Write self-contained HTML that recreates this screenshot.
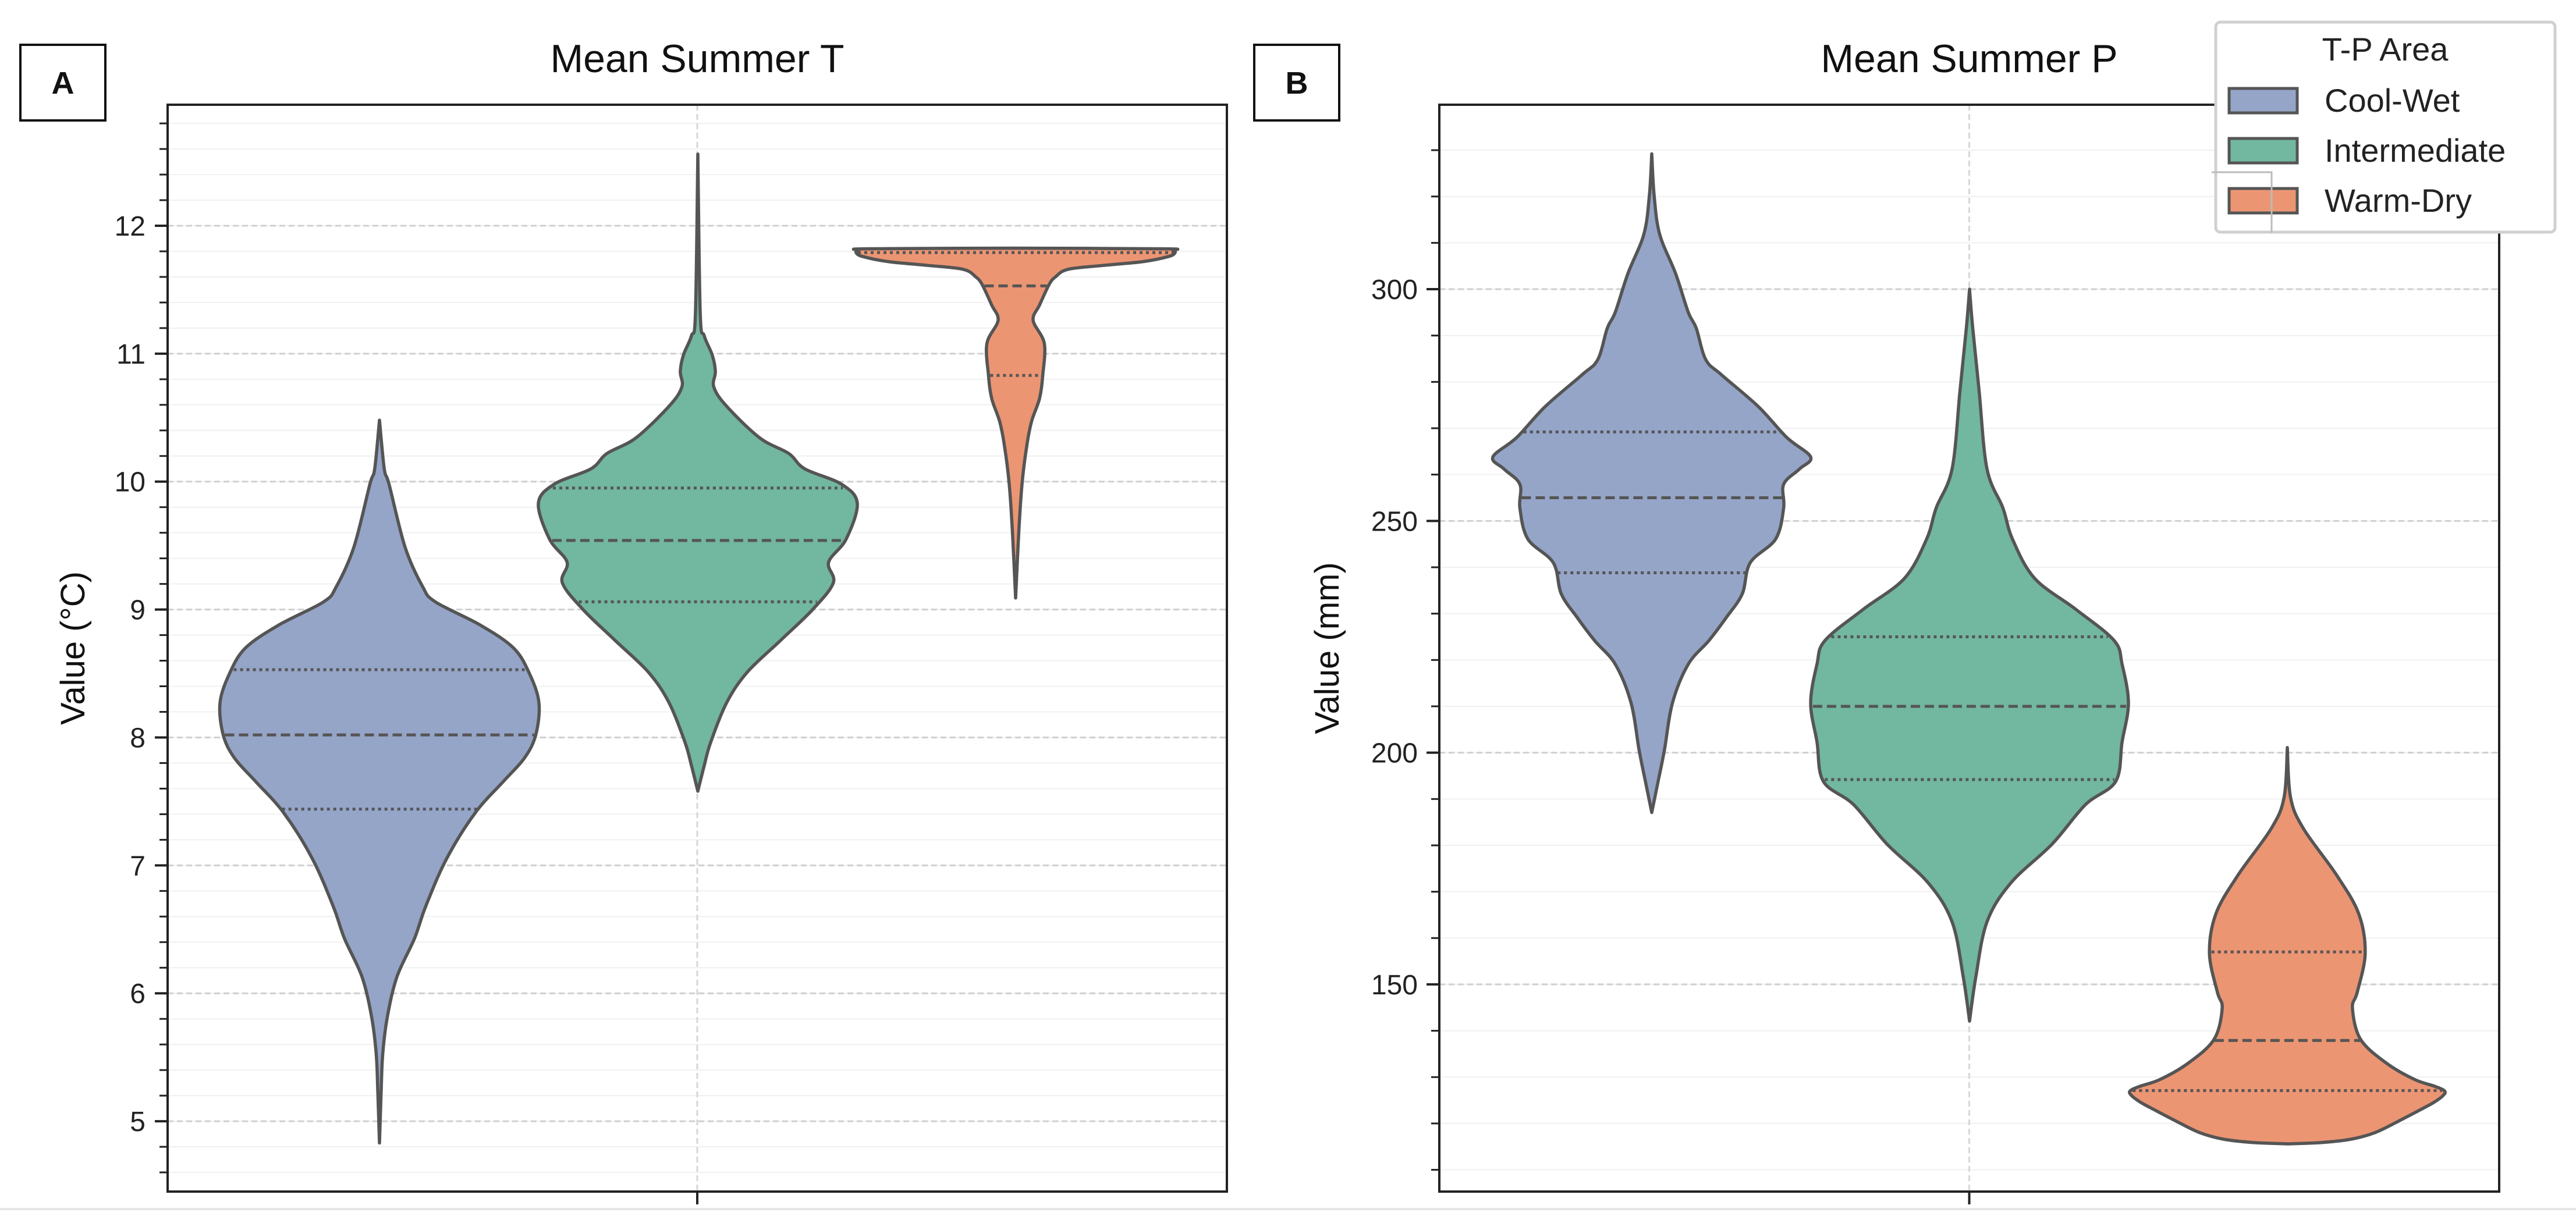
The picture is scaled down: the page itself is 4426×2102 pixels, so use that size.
<!DOCTYPE html>
<html><head><meta charset="utf-8">
<style>
html,body{margin:0;padding:0;background:#fff;}
svg{display:block;font-family:"Liberation Sans","DejaVu Sans",sans-serif;}
</style></head>
<body>
<svg id="fig" width="4426" height="2102" viewBox="0 0 4426 2102" xmlns="http://www.w3.org/2000/svg">
<rect x="0" y="0" width="4426" height="2102" fill="#fff"/>
<g id="panelA"></g>
<g id="panelB"></g>
<g id="legend">
  <rect x="3807" y="38" width="583" height="361" rx="8" fill="#fff" stroke="#d0d0d0" stroke-width="5"/>
  <text x="4098" y="104" font-size="56" text-anchor="middle" fill="#222">T-P Area</text>
  <g>
    <rect x="3830" y="152" width="117" height="42" fill="#95a5c8" stroke="#555" stroke-width="5"/>
    <text x="3994" y="192" font-size="56" fill="#222">Cool-Wet</text>
  </g>
  <g>
    <rect x="3830" y="238" width="117" height="42" fill="#72b7a0" stroke="#555" stroke-width="5"/>
    <text x="3994" y="278" font-size="56" fill="#222">Intermediate</text>
  </g>
  <g>
    <rect x="3830" y="324" width="117" height="42" fill="#ec9573" stroke="#555" stroke-width="5"/>
    <text x="3994" y="364" font-size="56" fill="#222">Warm-Dry</text>
  </g>
</g>
</svg>
<script>
// ---------- DATA ----------
const groups = ["Cool-Wet","Intermediate","Warm-Dry"];
const colors = ["#95a5c8","#72b7a0","#ec9573"];

// Panel A (Mean Summer T, °C): profile values and relative density widths
const aCoolVals = [10.48,10.1,9.98,9.49,9.18,9.06,8.88,8.7,8.5,8.27,8.02,7.84,7.66,7.41,7.05,6.68,6.43,6.13,5.82,5.52,5.21,4.83];
const aCoolDens = [0,0.03,0.06,0.16,0.27,0.35,0.63,0.84,0.94,1.0,0.98,0.91,0.78,0.6,0.42,0.29,0.22,0.11,0.05,0.02,0.01,0];
const aInterVals = [12.56,11.32,11.14,10.99,10.86,10.74,10.59,10.34,10.22,10.1,9.98,9.83,9.55,9.37,9.21,9.0,8.76,8.51,8.27,7.96,7.78,7.58];
const aInterDens = [0,0.015,0.04,0.09,0.11,0.1,0.18,0.39,0.57,0.67,0.9,1.0,0.93,0.82,0.85,0.72,0.52,0.31,0.18,0.08,0.04,0];
const aWarmVals = [11.825,11.82,11.81,11.79,11.76,11.72,11.69,11.66,11.6,11.54,11.38,11.26,11.08,10.83,10.65,10.47,10.28,9.98,9.61,9.09];
const aWarmDens = [0,0.93,0.985,1.0,0.96,0.8,0.55,0.33,0.25,0.21,0.15,0.11,0.18,0.17,0.15,0.1,0.07,0.04,0.02,0];
const aQuart = [[7.44,8.02,8.53],[9.06,9.54,9.95],[10.83,11.53,11.79]];
const aTicks = [5,6,7,8,9,10,11,12];

// Panel B (Mean Summer P, mm)
const bCoolVals = [329.2,320.2,311.8,303.4,295,291.6,284.8,281.5,274.7,268,263.8,261.2,257.9,252.8,246.1,241,234.3,229.2,224.2,219.1,210.7,200.6,193.8,187.1];
const bCoolDens = [0,0.015,0.05,0.15,0.23,0.28,0.34,0.44,0.67,0.85,1.0,0.93,0.83,0.83,0.78,0.62,0.57,0.47,0.36,0.23,0.13,0.08,0.04,0];
const bInterVals = [300,291.6,278.1,261.2,252.8,246.1,237.6,230.9,224.2,219.1,210.7,202.3,193.8,188.8,180.3,171.9,163.5,151.7,142.1];
const bInterDens = [0,0.02,0.06,0.11,0.21,0.27,0.41,0.67,0.91,0.96,1.0,0.96,0.92,0.73,0.52,0.26,0.11,0.04,0];
const bWarmVals = [201.1,190.4,183.7,173.6,165.2,156.7,148.3,144.9,138.2,133.1,129.5,128,127,126,124.5,123,120.5,118,116.6,115.9,115.6];
const bWarmDens = [0,0.02,0.1,0.31,0.45,0.49,0.44,0.41,0.46,0.62,0.8,0.93,0.99,0.98,0.92,0.84,0.7,0.55,0.4,0.22,0];
const bQuart = [[238.8,255,269.2],[194.2,210,225],[127.1,137.9,157]];
const bTicks = [150,200,250,300];

// ---------- DRAWING ----------
const NS = "http://www.w3.org/2000/svg";
function mk(parent, tag, attrs){
  const e = document.createElementNS(NS, tag);
  for (const k in attrs) e.setAttribute(k, attrs[k]);
  parent.appendChild(e); return e;
}
function interp(vals, dens, v){
  for (let i=0;i<vals.length-1;i++){
    const a=vals[i], b=vals[i+1];
    if ((v<=a && v>=b)){ const t=(a-v)/(a-b||1); return dens[i]+(dens[i+1]-dens[i])*t; }
  }
  return 0;
}
function smoothPath(pts){
  let d = "M"+pts[0][0]+","+pts[0][1];
  for (let i=0;i<pts.length-1;i++){
    const p0=pts[i-1]||pts[i], p1=pts[i], p2=pts[i+1], p3=pts[i+2]||p2;
    const c1=[p1[0]+(p2[0]-p0[0])/6, p1[1]+(p2[1]-p0[1])/6];
    const c2=[p2[0]-(p3[0]-p1[0])/6, p2[1]-(p3[1]-p1[1])/6];
    d += " C"+c1[0].toFixed(1)+","+c1[1].toFixed(1)+" "+c2[0].toFixed(1)+","+c2[1].toFixed(1)+" "+p2[0].toFixed(1)+","+p2[1].toFixed(1);
  }
  return d;
}

function drawPanel(g, cfg){
  const {left,right,top,bottom,vmin,vmax,ticks,minorStep,centers,hw,profiles,quarts,title,ylabel,tickLabelX,ylabelX,letter,letterBox,panelKey} = cfg;
  const y = v => bottom - (v - vmin)/(vmax - vmin)*(bottom-top);
  const clip = mk(g,"clipPath",{id:"clip"+panelKey});
  mk(clip,"rect",{x:left,y:top,width:right-left,height:bottom-top});
  const mg = mk(g,"g",{});
  
  
  for (let v=Math.ceil(vmin/minorStep)*minorStep; v<=vmax; v+=minorStep){
    const yy=y(v);
    mk(mg,"line",{x1:left,x2:right,y1:yy,y2:yy,stroke:"#f0f0f0","stroke-width":2});
    mk(mg,"line",{x1:left-14,x2:left,y1:yy,y2:yy,stroke:"#222","stroke-width":3});
  }
  const tg = mk(g,"g",{});
  
  
  ticks.forEach(v=>{
    const yy=y(v);
    mk(tg,"line",{x1:left,x2:right,y1:yy,y2:yy,stroke:"#cfcfcf","stroke-width":3,"stroke-dasharray":"10,6"});
    mk(tg,"line",{x1:left-22,x2:left,y1:yy,y2:yy,stroke:"#222","stroke-width":4});
    const t = mk(tg,"text",{x:tickLabelX,y:yy+17,"font-size":48,"text-anchor":"end",fill:"#222"});
    t.textContent = v;
    
    
  });
  const cx = (left+right)/2;
  mk(tg,"line",{x1:cx,x2:cx,y1:top,y2:bottom,stroke:"#d6d6d6","stroke-width":3,"stroke-dasharray":"10,6"});
  mk(tg,"line",{x1:cx,x2:cx,y1:bottom,y2:bottom+22,stroke:"#222","stroke-width":4});
  profiles.forEach((p,i)=>{
    const vg = mk(g,"g",{"clip-path":"url(#clip"+panelKey+")"});
    
    
    const c = centers[i];
    const rightPts = p.vals.map((v,k)=>[c + p.dens[k]*hw, y(v)]);
    const leftPts = p.vals.map((v,k)=>[c - p.dens[k]*hw, y(v)]).reverse();
    const d = smoothPath(rightPts) + " L" + smoothPath(leftPts).slice(1) + " Z";
    mk(vg,"path",{d:d,fill:colors[i],stroke:"#555","stroke-width":5.5,"stroke-linejoin":"round"});
    quarts[i].forEach((q,k)=>{
      const w = interp(p.vals,p.dens,q)*hw - 3;
      const ln = mk(vg,"line",{x1:c-w,x2:c+w,y1:y(q),y2:y(q),stroke:"#555","stroke-width":5,
        "stroke-dasharray": k===1 ? "16,8" : "5,6"});
      
      
    });
  });
  const fr = mk(g,"rect",{x:left,y:top,width:right-left,height:bottom-top,fill:"none",stroke:"#222","stroke-width":4});
  
  
  const tt = mk(g,"text",{x:cx,y:124,"font-size":68,"text-anchor":"middle",fill:"#111"});
  tt.textContent = title;
  
  
  const yl = mk(g,"text",{x:ylabelX,y:(top+bottom)/2,"font-size":58,"text-anchor":"middle",fill:"#111",transform:"rotate(-90 "+ylabelX+" "+((top+bottom)/2)+")"});
  yl.textContent = ylabel;
  
  
  const lb = mk(g,"rect",{x:letterBox[0],y:letterBox[1],width:letterBox[2],height:letterBox[3],fill:"#fff",stroke:"#111","stroke-width":4});
  
  
  const lt = mk(g,"text",{x:letterBox[0]+letterBox[2]/2,y:letterBox[1]+letterBox[3]/2+19,"font-size":54,"font-weight":"bold","text-anchor":"middle",fill:"#111"});
  lt.textContent = letter;
  
  
}

drawPanel(document.getElementById("panelA"), {
  panelKey:"A", left:288, right:2108, top:180, bottom:2048, vmin:4.45, vmax:12.946,
  ticks:aTicks, minorStep:0.2, centers:[652,1199,1745], hw:274,
  profiles:[{vals:aCoolVals,dens:aCoolDens},{vals:aInterVals,dens:aInterDens},{vals:aWarmVals,dens:aWarmDens}],
  quarts:aQuart, title:"Mean Summer T", ylabel:"Value (°C)", tickLabelX:250, ylabelX:145,
  letter:"A", letterBox:[35,77,146,130]
});
drawPanel(document.getElementById("panelB"), {
  panelKey:"B", left:2473, right:4294, top:180, bottom:2048, vmin:105.3, vmax:339.8,
  ticks:bTicks, minorStep:10, centers:[2838,3384,3930], hw:273,
  profiles:[{vals:bCoolVals,dens:bCoolDens},{vals:bInterVals,dens:bInterDens},{vals:bWarmVals,dens:bWarmDens}],
  quarts:bQuart, title:"Mean Summer P", ylabel:"Value (mm)", tickLabelX:2436, ylabelX:2300,
  letter:"B", letterBox:[2155,77,146,130]
});
const fig = document.getElementById("fig");
fig.appendChild(document.getElementById("legend"));
const art = mk(fig,"path",{d:"M3800,296 L3903,296 L3903,400",fill:"none",stroke:"#bbb","stroke-width":3});


const base = mk(fig,"line",{x1:0,x2:4426,y1:2078,y2:2078,stroke:"#e6e6e6","stroke-width":4});


</script>
</body></html>
